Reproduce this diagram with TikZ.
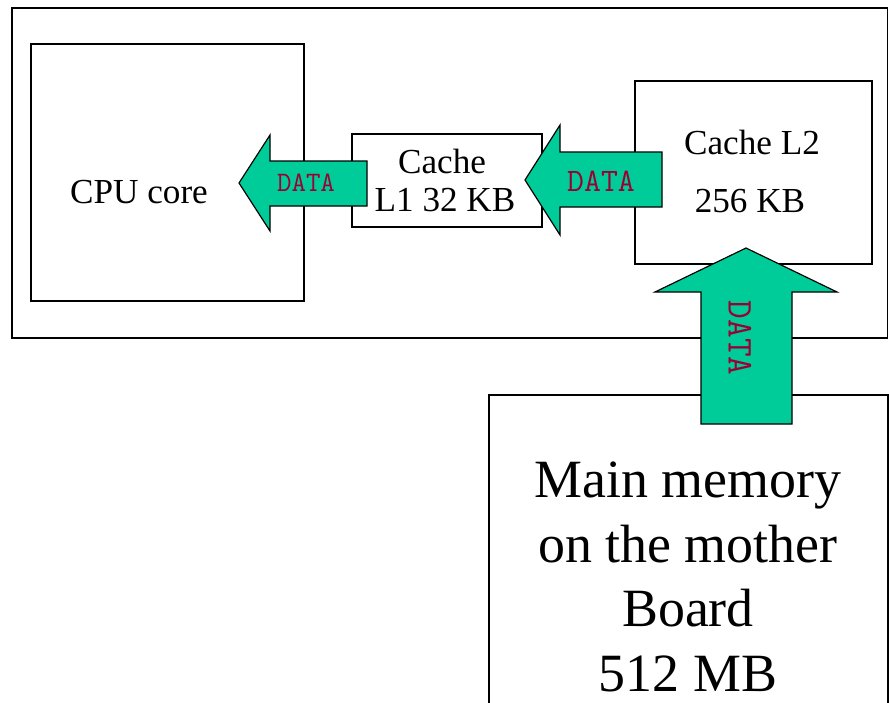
\documentclass[tikz,border=0pt]{standalone}
\usepackage{fontspec}
\setmainfont{Liberation Serif}
\usetikzlibrary{positioning}

\definecolor{datagreen}{RGB}{0,204,153}
\definecolor{datared}{RGB}{153,0,51}

\begin{document}
\begin{tikzpicture}[x = 0.3mm, y = -0.3mm,
  box/.style = {draw, line width=1.2pt},
  blockarrow/.style = {draw, line width=1pt, fill=datagreen, line join=miter},
  boxtext/.style = {inner sep=0pt, anchor=base, font=\fontsize{30}{36}\selectfont},
  datatext/.style = {inner sep=0pt, text=datared}]
\useasboundingbox (0,0) rectangle (889,702);

% chip and its parts
\draw[box] (12,8) rectangle (887.5,338);
\draw[box] (31,44) rectangle (304,301);
\draw[box, fill=white] (352,134) rectangle (542,227);
\draw[box] (635,81) rectangle (872,264);
\draw[box] (489,710) -- (489,395) -- (888,395) -- (888,710);

\node[boxtext] (cpu) at (139,203) {CPU core};
\node[boxtext] (lonea) at (442,173) {Cache};
\node[boxtext] (loneb) at (445,211) {L1 32 KB};
\node[boxtext] (ltwoa) at (752,154) {Cache L2};
\node[boxtext] (ltwob) at (750,212) {256 KB};
\node[inner sep=0pt, anchor=north, align=center,
  font=\fontsize{46}{55}\selectfont] (mem) at (688,462)
  {Main memory\\on the mother\\Board\\512 MB};

% data paths
\draw[blockarrow] (239,183) -- (270,135) -- (270,161) -- (367,161)
  -- (367,206) -- (270,206) -- (270,231) -- cycle;
\draw[blockarrow] (525,180) -- (560,125) -- (560,152) -- (662,152)
  -- (662,207) -- (560,207) -- (560,235) -- cycle;
\draw[blockarrow] (746,248) -- (837,292) -- (792,292) -- (792,424)
  -- (701,424) -- (701,292) -- (655,292) -- cycle;

\node[datatext, font=\ttfamily\fontsize{24}{28}\selectfont] (dataone) at (306,183) {DATA};
\node[datatext, font=\ttfamily\fontsize{28}{32}\selectfont] (datatwo) at (601,181) {DATA};
\node[datatext, font=\ttfamily\fontsize{31}{36}\selectfont, rotate=-90] (datathree) at (740,338) {DATA};
\end{tikzpicture}
\end{document}
